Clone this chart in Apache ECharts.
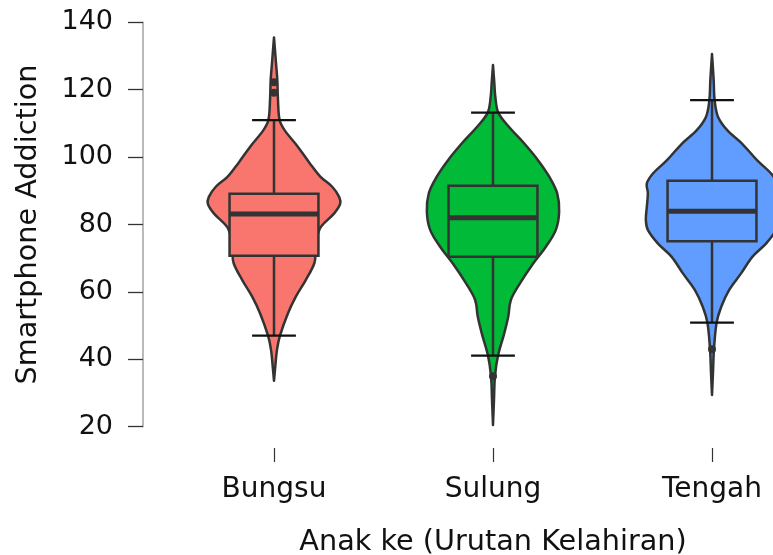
<!DOCTYPE html>
<html>
<head>
<meta charset="utf-8">
<script src="https://cdn.jsdelivr.net/npm/echarts@6/dist/echarts.min.js"></script>
<style>
  html, body { margin: 0; padding: 0; background: #ffffff; }
  #chart { width: 773px; height: 555px; }
</style>
</head>
<body>
<div id="chart"></div>
<script>
// Birth-order groups on the x axis
const categories = ['Bungsu', 'Sulung', 'Tengah'];

// Box statistics per group: [lower whisker, Q1, median, Q3, upper whisker]
const boxBungsu = [47.0, 70.7, 83.1, 89.1, 111.0];
const boxSulung = [41.1, 70.4, 82.0, 91.5, 113.2];
const boxTengah = [50.9, 75.0, 83.9, 93.0, 116.9];

// Points beyond the whiskers
const outBungsu = [122.2, 119.1];
const outSulung = [35.0];
const outTengah = [43.0];

// Kernel density profiles: [score, relative density (peak = 1)]
const densBungsu = [
  [33.6, 0], [38, 0.02], [42.8, 0.045], [47, 0.09], [53.6, 0.21], [58.6, 0.33],
  [63.5, 0.48], [68.5, 0.61], [72, 0.63], [76, 0.65], [79.3, 0.71], [83.3, 0.91],
  [86.1, 1.0], [88.2, 0.985], [91.2, 0.88], [94.2, 0.70], [98.2, 0.54],
  [103.1, 0.36], [108, 0.16], [111, 0.085], [117, 0.06], [122.9, 0.05],
  [128, 0.03], [135.5, 0]
];
const densSulung = [
  [20.5, 0], [28, 0.015], [35, 0.03], [41.1, 0.076], [47.7, 0.17], [52.6, 0.23],
  [57.6, 0.27], [62.6, 0.41], [68.5, 0.61], [73.4, 0.80], [78.4, 0.95],
  [83.8, 1.0], [89.3, 0.97], [94.2, 0.85], [99.1, 0.68], [104.1, 0.47],
  [109, 0.24], [113.2, 0.08], [117.9, 0.035], [122, 0.02], [127.3, 0]
];
const densTengah = [
  [29.4, 0], [36, 0.015], [43, 0.03], [50.9, 0.07], [55.6, 0.14], [60.6, 0.26],
  [65.5, 0.44], [70.4, 0.61], [74.4, 0.82], [78.4, 0.97], [81.3, 1.0],
  [85.3, 0.985], [89.3, 0.97], [92.2, 0.985], [95.2, 0.89], [99.1, 0.68],
  [104.1, 0.45], [108, 0.23], [112, 0.09], [116.9, 0.04], [122.9, 0.025],
  [130.6, 0]
];

// Y axis ticks
const yTicks = [20, 40, 60, 80, 100, 120, 140];

const boxes = [boxBungsu, boxSulung, boxTengah];
const outlierSets = [outBungsu, outSulung, outTengah];
const densities = [densBungsu, densSulung, densTengah];
const fills = ['#F8766D', '#00BA38', '#619CFF'];

const FONT = 'DejaVu Sans';
const INK = '#333333';

function renderGroup(params, api) {
  const idx = api.value(0);
  const band = api.size([1, 0])[0];
  const cx = api.coord([idx, 0])[0];
  const y = v => api.coord([idx, v])[1];
  const violinHalf = band * 0.302;
  const boxHalf = band * 0.203;
  const capHalf = band * 0.1;
  const fill = fills[idx];
  const [lo, q1, med, q3, hi] = boxes[idx];

  const left = [], right = [];
  densities[idx].forEach(([v, d]) => {
    left.push([cx - d * violinHalf, y(v)]);
    right.push([cx + d * violinHalf, y(v)]);
  });
  const outline = left.concat(right.reverse());

  const children = [
    {
      type: 'polygon',
      shape: { points: outline, smooth: 0.35 },
      style: { fill: fill, stroke: INK, lineWidth: 2.5, lineJoin: 'round' }
    },
    {
      type: 'line',
      shape: { x1: cx, y1: y(hi), x2: cx, y2: y(q3) },
      style: { stroke: INK, lineWidth: 2.5 }
    },
    {
      type: 'line',
      shape: { x1: cx, y1: y(q1), x2: cx, y2: y(lo) },
      style: { stroke: INK, lineWidth: 2.5 }
    },
    {
      type: 'rect',
      shape: { x: cx - boxHalf, y: y(q3), width: boxHalf * 2, height: y(q1) - y(q3) },
      style: { fill: fill, stroke: INK, lineWidth: 2.5 }
    },
    {
      type: 'line',
      shape: { x1: cx - boxHalf, y1: y(med), x2: cx + boxHalf, y2: y(med) },
      style: { stroke: INK, lineWidth: 5 }
    },
    {
      type: 'line',
      shape: { x1: cx - capHalf, y1: y(hi), x2: cx + capHalf, y2: y(hi) },
      style: { stroke: '#111111', lineWidth: 2.2 }
    },
    {
      type: 'line',
      shape: { x1: cx - capHalf, y1: y(lo), x2: cx + capHalf, y2: y(lo) },
      style: { stroke: '#111111', lineWidth: 2.2 }
    }
  ];
  outlierSets[idx].forEach(v => {
    children.push({
      type: 'circle',
      shape: { cx: cx, cy: y(v), r: 4 },
      style: { fill: INK }
    });
  });
  return { type: 'group', children: children };
}

const chart = echarts.init(document.getElementById('chart'), null, { renderer: 'canvas' });
chart.setOption({
  animation: false,
  backgroundColor: '#ffffff',
  grid: {
    left: 164.5, top: 22.3, width: 657, height: 404.4,
    containLabel: false, outerBoundsMode: 'none'
  },
  xAxis: {
    type: 'category',
    data: categories,
    offset: 21.3,
    axisLine: { show: false },
    axisTick: { show: true, alignWithLabel: true, length: 14, lineStyle: { color: INK, width: 1.2 } },
    axisLabel: { color: '#111111', fontFamily: FONT, fontSize: 28, margin: 28 },
    name: 'Anak ke (Urutan Kelahiran)',
    nameLocation: 'middle',
    nameGap: 80,
    nameTextStyle: { color: '#111111', fontFamily: FONT, fontSize: 28.7 },
    splitLine: { show: false }
  },
  yAxis: {
    type: 'value',
    min: yTicks[0],
    max: yTicks[yTicks.length - 1],
    interval: 20,
    offset: 21.5,
    axisLine: { show: true, lineStyle: { color: '#a3a3a3', width: 1.5 } },
    axisTick: { show: true, length: 15, lineStyle: { color: INK, width: 1.3 } },
    axisLabel: { color: '#111111', fontFamily: FONT, fontSize: 27, margin: 30 },
    name: 'Smartphone Addiction',
    nameLocation: 'middle',
    nameGap: 100,
    nameTextStyle: { color: '#111111', fontFamily: FONT, fontSize: 28.7 },
    splitLine: { show: false }
  },
  series: [{
    type: 'custom',
    renderItem: renderGroup,
    data: categories.map((c, i) => [i]),
    encode: { x: 0 },
    clip: false,
    silent: true
  }]
});
</script>
</body>
</html>
